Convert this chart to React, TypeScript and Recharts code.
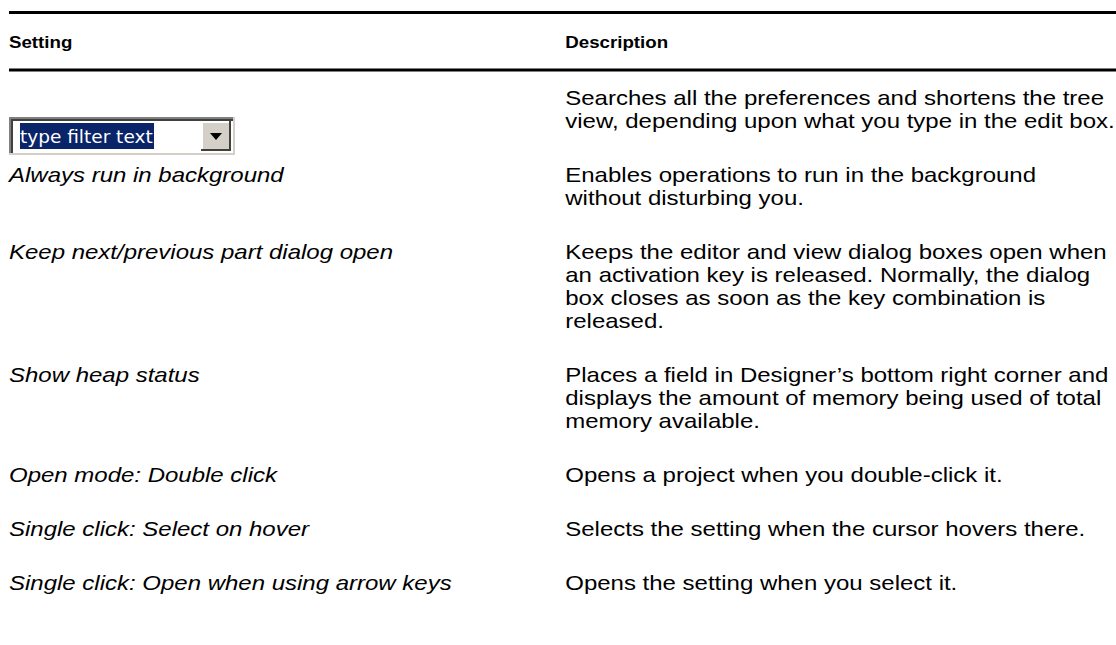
import React from "react";
import { ScatterChart, Scatter, XAxis, YAxis, ReferenceLine } from "recharts";

// ---------- data ----------
const columnHeaders = ["Setting", "Description"];
const settingKinds = ["widget", "text", "text", "text", "text", "text", "text"];
const settings = [
  "type filter text",
  "Always run in background",
  "Keep next/previous part dialog open",
  "Show heap status",
  "Open mode: Double click",
  "Single click: Select on hover",
  "Single click: Open when using arrow keys",
];
const descriptions = [
  ["Searches all the preferences and shortens the tree", "view, depending upon what you type in the edit box."],
  ["Enables operations to run in the background", "without disturbing you."],
  [
    "Keeps the editor and view dialog boxes open when",
    "an activation key is released. Normally, the dialog",
    "box closes as soon as the key combination is",
    "released.",
  ],
  [
    "Places a field in Designer\u2019s bottom right corner and",
    "displays the amount of memory being used of total",
    "memory available.",
  ],
  ["Opens a project when you double-click it."],
  ["Selects the setting when the cursor hovers there."],
  ["Opens the setting when you select it."],
];

// ---------- layout ----------
const W = 1116;
const H = 645;
const TOP_RULE = 12.5;
const HEADER_BASELINE = 48;
const HEADER_RULE = 70;
const FIRST_BASELINE = 105;
const LINE = 23;
const ROW_PAD = 31;
const FONT = "'Liberation Sans', Arial, Helvetica, sans-serif";
const BODY_SIZE = 20;
const HEAD_SIZE = 17;
const STRETCH = 1.2;
const HEAD_STRETCH = 1.1;

type Cell = { col: number; y: number; text: string; kind: string };

const cells: Cell[] = [];
columnHeaders.forEach((h, i) => cells.push({ col: i, y: HEADER_BASELINE, text: h, kind: "header" }));
let baseline = FIRST_BASELINE;
descriptions.forEach((lines, r) => {
  if (settingKinds[r] === "widget") {
    cells.push({ col: 0, y: baseline + (lines.length - 1) * LINE, text: settings[r], kind: "widget" });
  } else {
    cells.push({ col: 0, y: baseline, text: settings[r], kind: "setting" });
  }
  lines.forEach((t, i) => cells.push({ col: 1, y: baseline + i * LINE, text: t, kind: "desc" }));
  baseline += lines.length * LINE + ROW_PAD;
});

const WG_W = 226;
const WG_H = 38;

const FilterWidget = ({ x, y, label }: { x: number; y: number; label: string }) => {
  const top = y + 8 - WG_H / 2;
  const bx = x + WG_W - 34;
  return (
    <g>
      <rect x={x} y={top} width={WG_W} height={WG_H} fill="#ffffff" />
      <rect x={x} y={top} width={WG_W} height={2} fill="#808080" />
      <rect x={x} y={top} width={2} height={WG_H} fill="#808080" />
      <rect x={x + 2} y={top + 2} width={WG_W - 4} height={2} fill="#404040" />
      <rect x={x + 2} y={top + 2} width={2} height={WG_H - 4} fill="#404040" />
      <rect x={x} y={top + WG_H - 2} width={WG_W} height={2} fill="#d4d0c8" />
      <rect x={x + WG_W - 2} y={top} width={2} height={WG_H} fill="#d4d0c8" />
      <rect x={x + 11} y={top + 6} width={134} height={WG_H - 12} fill="#0a246a" />
      <text
        x={x + 11}
        y={top + WG_H / 2 + 7}
        fill="#ffffff"
        fontFamily="'DejaVu Sans', Tahoma, sans-serif"
        fontSize={18.5}
      >
        {label}
      </text>
      <rect x={bx} y={top + 4} width={30} height={WG_H - 8} fill="#d4d0c8" />
      <rect x={bx} y={top + 4} width={30} height={2} fill="#ffffff" />
      <rect x={bx} y={top + 4} width={2} height={WG_H - 8} fill="#ffffff" />
      <rect x={bx} y={top + WG_H - 6} width={30} height={2} fill="#404040" />
      <rect x={bx + 28} y={top + 4} width={2} height={WG_H - 8} fill="#404040" />
      <path
        d={`M ${bx + 9} ${top + WG_H / 2 - 3} L ${bx + 21} ${top + WG_H / 2 - 3} L ${bx + 15} ${top + WG_H / 2 + 4} Z`}
        fill="#000000"
      />
    </g>
  );
};

const renderCell = (props: any) => {
  const { cx, cy, payload } = props;
  if (payload.kind === "widget") return <FilterWidget x={cx} y={cy} label={payload.text} />;
  const header = payload.kind === "header";
  const sx = header ? HEAD_STRETCH : STRETCH;
  return (
    <text
      x={0}
      y={0}
      transform={`translate(${cx} ${cy}) scale(${sx} 1)`}
      fill="#000000"
      fontFamily={FONT}
      fontSize={header ? HEAD_SIZE : BODY_SIZE}
      fontWeight={header ? "bold" : "normal"}
      fontStyle={payload.kind === "setting" ? "italic" : "normal"}
    >
      {payload.text}
    </text>
  );
};

export default function App() {
  return (
    <div style={{ position: "absolute", left: 0, top: 0, width: W, height: H, background: "#ffffff" }}>
      <ScatterChart width={W} height={H} margin={{ top: 0, right: 0, bottom: 0, left: 9 }}>
        <XAxis type="number" dataKey="col" domain={[0, 1.99]} hide />
        <YAxis type="number" dataKey="y" domain={[0, H]} reversed hide />
        <ReferenceLine y={TOP_RULE} stroke="#000000" strokeWidth={3} />
        <ReferenceLine y={HEADER_RULE} stroke="#000000" strokeWidth={3} />
        <Scatter data={cells} shape={renderCell} isAnimationActive={false} />
      </ScatterChart>
    </div>
  );
}
